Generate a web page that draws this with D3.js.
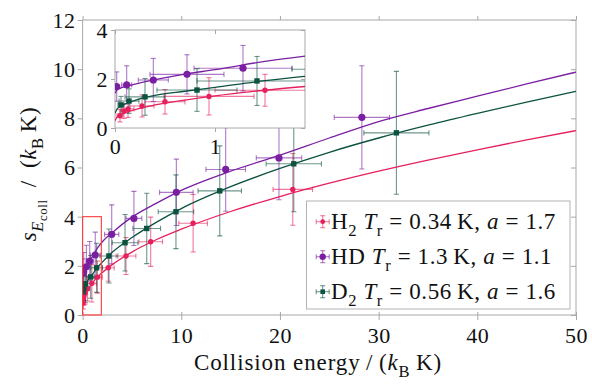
<!DOCTYPE html>
<html><head><meta charset="utf-8">
<script src="https://cdn.jsdelivr.net/npm/d3@7"></script>
<style>
body{margin:0;background:#fff}
svg{display:block}
svg text{fill:#111}
</style>
</head><body>
<svg id="chart" width="592" height="384"></svg>
<script>
// ---- measured data: collision energy (kB K) vs energy spread (kB K) ----
const h2E  = [0.05, 0.09, 0.13, 0.27, 0.5, 0.94, 1.5, 2.6, 4.4, 6.9, 11.2, 21.3];
const h2S  = [0.50, 0.69, 0.78, 0.90, 1.07, 1.29, 1.54, 1.92, 2.40, 2.98, 3.73, 5.11];
const h2dE = [0.03, 0.04, 0.06, 0.12, 0.2, 0.45, 0.5, 0.6, 1.0, 1.2, 1.45, 2.0];
const h2dS = [0.25, 0.30, 0.35, 0.45, 0.5, 0.76, 0.65, 0.55, 0.75, 1.0, 1.17, 1.46];

const hdE  = [0.017, 0.117, 0.383, 0.72, 1.28, 2.95, 5.2, 9.5, 14.5, 19.9, 28.3];
const hdS  = [1.69, 1.76, 1.96, 2.19, 2.44, 3.28, 3.93, 4.99, 5.92, 6.39, 8.04];
const hddE = [0.02, 0.05, 0.15, 0.37, 0.49, 0.72, 0.8, 1.7, 2.0, 2.3, 2.8];
const hddS = [0.6, 0.78, 0.88, 0.8, 0.93, 1.2, 1.1, 1.35, 1.7, 1.7, 2.1];

const d2E  = [0.06, 0.14, 0.30, 0.82, 1.42, 2.67, 4.3, 6.5, 9.46, 13.9, 21.4, 31.8];
const d2S  = [0.94, 1.10, 1.27, 1.55, 1.92, 2.40, 2.94, 3.52, 4.20, 5.05, 6.15, 7.41];
const d2dE = [0.03, 0.1, 0.2, 0.4, 0.6, 0.9, 1.3, 1.4, 1.8, 2.2, 2.8, 3.3];
const d2dS = [0.35, 0.5, 0.75, 0.87, 1.0, 1.1, 1.15, 1.43, 1.5, 1.83, 1.95, 2.5];

// ---- fitted model curves, sampled ----
const fitE   = [0, 0.02, 0.05, 0.1, 0.2, 0.4, 0.7, 1, 1.5, 2, 3, 5, 7.5, 10, 15, 20, 25, 30, 35, 40, 45, 50];
const fitH2  = [0.30, 0.44, 0.53, 0.62, 0.75, 0.94, 1.14, 1.31, 1.54, 1.73, 2.05, 2.56, 3.07, 3.49, 4.21, 4.82, 5.36, 5.85, 6.30, 6.72, 7.12, 7.50];
const fitHD  = [1.42, 1.55, 1.62, 1.69, 1.79, 1.97, 2.20, 2.38, 2.72, 2.98, 3.35, 3.98, 4.55, 5.07, 5.85, 6.50, 7.20, 7.87, 8.40, 8.90, 9.40, 9.88];
const fitD2  = [0.60, 0.77, 0.87, 0.98, 1.13, 1.33, 1.50, 1.66, 1.93, 2.15, 2.55, 3.15, 3.78, 4.33, 5.22, 5.96, 6.62, 7.20, 7.72, 8.20, 8.66, 9.10];

const xTicks = [0, 10, 20, 30, 40, 50];
const yTicks = [0, 2, 4, 6, 8, 10, 12];
const insetXTicks = [0, 1];
const insetYTicks = [0, 2, 4];

const legendRows = [
  {name: "H", sub: "2", tr: "0.34", a: "1.7"},
  {name: "HD", sub: "", tr: "1.3", a: "1.1"},
  {name: "D", sub: "2", tr: "0.56", a: "1.6"}
];

const series = [
  {E: h2E, S: h2S, dE: h2dE, dS: h2dS, fit: fitH2, color: "#e6205c", shape: "dot"},
  {E: hdE, S: hdS, dE: hddE, dS: hddS, fit: fitHD, color: "#7a1fa2", shape: "circle"},
  {E: d2E, S: d2S, dE: d2dE, dS: d2dS, fit: fitD2, color: "#0c5240", shape: "square"}
];

const SERIF = '"Liberation Serif", "Times New Roman", serif';
const svg = d3.select("#chart").attr("font-family", SERIF);
const FS = 22;
const AXIS = "#a8a8a8";

const x = d3.scaleLinear([0, 50], [82.6, 576]);
const y = d3.scaleLinear([0, 12], [315, 20]);
const xi = d3.scaleLinear([0, 1.9], [115, 305]);
const yi = d3.scaleLinear([0, 4], [128, 30]);

// rich text helper: parts with italic flag and subscript level
function rich(sel, parts, size) {
  sel.attr("font-family", SERIF);
  let shift = 0;
  parts.forEach(p => {
    const lvl = p.l || 0;
    const target = lvl === 0 ? 0 : lvl === 1 ? size * 0.3 : size * 0.48;
    const fs = lvl === 0 ? size : lvl === 1 ? size * 0.72 : size * 0.56;
    const ts = sel.append("tspan").text(p.t).attr("font-size", fs);
    if (p.it) ts.attr("font-style", "italic");
    if (target !== shift) { ts.attr("dy", target - shift); shift = target; }
  });
}

function styleTicks(axisSel) {
  axisSel.attr("font-family", SERIF);
  axisSel.selectAll(".tick text").attr("font-size", FS).attr("fill", "#111").attr("font-family", SERIF)
    .attr("letter-spacing", 0.5);
}

function drawData(g, xs, ys) {
  const cap = 2.6;
  series.forEach(s => {
    const eb = g.append("g").attr("stroke", s.color).attr("stroke-opacity", 0.6).attr("stroke-width", 1.1);
    s.E.forEach((e, i) => {
      const px = xs(e), py = ys(s.S[i]);
      const y0 = ys(s.S[i] - s.dS[i]), y1 = ys(s.S[i] + s.dS[i]);
      const x0 = xs(e - s.dE[i]), x1 = xs(e + s.dE[i]);
      eb.append("line").attr("x1", px).attr("x2", px).attr("y1", y0).attr("y2", y1);
      eb.append("line").attr("x1", px - cap).attr("x2", px + cap).attr("y1", y0).attr("y2", y0);
      eb.append("line").attr("x1", px - cap).attr("x2", px + cap).attr("y1", y1).attr("y2", y1);
      eb.append("line").attr("x1", x0).attr("x2", x1).attr("y1", py).attr("y2", py);
      eb.append("line").attr("x1", x0).attr("x2", x0).attr("y1", py - cap).attr("y2", py + cap);
      eb.append("line").attr("x1", x1).attr("x2", x1).attr("y1", py - cap).attr("y2", py + cap);
    });
  });
  series.forEach(s => {
    const line = d3.line().x((d, i) => xs(fitE[i])).y(d => ys(d)).curve(d3.curveMonotoneX);
    g.append("path").attr("d", line(s.fit)).attr("fill", "none")
      .attr("stroke", s.color).attr("stroke-width", 1.3);
  });
  series.forEach(s => {
    s.E.forEach((e, i) => drawMarker(g, s, xs(e), ys(s.S[i])));
  });
}

function drawMarker(g, s, px, py) {
  if (s.shape === "square") {
    g.append("rect").attr("x", px - 2.7).attr("y", py - 2.7).attr("width", 5.4).attr("height", 5.4).attr("fill", s.color);
  } else {
    g.append("circle").attr("cx", px).attr("cy", py).attr("r", s.shape === "circle" ? 3.6 : 2.7).attr("fill", s.color);
  }
}

// ---- clip paths ----
const defs = svg.append("defs");
defs.append("clipPath").attr("id", "mainClip").append("rect")
  .attr("x", x(0)).attr("y", y(12)).attr("width", x(50) - x(0)).attr("height", y(0) - y(12));
defs.append("clipPath").attr("id", "insetClip").append("rect")
  .attr("x", xi(0)).attr("y", yi(4)).attr("width", xi(1.9) - xi(0)).attr("height", yi(0) - yi(4));

// ---- main frame & axes ----
svg.append("rect").attr("x", x(0)).attr("y", y(12)).attr("width", x(50) - x(0)).attr("height", y(0) - y(12))
  .attr("fill", "none").attr("stroke", AXIS).attr("stroke-width", 1);

const xAxis = svg.append("g").attr("transform", `translate(0,${y(0)})`)
  .call(d3.axisBottom(x).tickValues(xTicks).tickSize(5).tickFormat(d3.format("d")));
xAxis.select(".domain").remove();
xAxis.selectAll(".tick line").attr("stroke", AXIS).attr("y1", -3).attr("y2", 5);
styleTicks(xAxis);
xAxis.selectAll(".tick text").attr("y", 28).attr("dy", 0);

const yAxis = svg.append("g").attr("transform", `translate(${x(0)},0)`)
  .call(d3.axisLeft(y).tickValues(yTicks).tickSize(5).tickPadding(2).tickFormat(d3.format("d")));
yAxis.select(".domain").remove();
yAxis.selectAll(".tick line").attr("stroke", AXIS);
styleTicks(yAxis);
yAxis.selectAll(".tick text").attr("dy", "0.34em");

// ticks mirrored on the top and right frame
const topAxis = svg.append("g").attr("transform", `translate(0,${y(12)})`)
  .call(d3.axisTop(x).tickValues(xTicks).tickSize(4).tickFormat(""));
topAxis.select(".domain").remove();
topAxis.selectAll(".tick line").attr("stroke", AXIS);
const rightAxis = svg.append("g").attr("transform", `translate(${x(50)},0)`)
  .call(d3.axisRight(y).tickValues(yTicks).tickSize(-5).tickFormat(""));
rightAxis.select(".domain").remove();
rightAxis.selectAll(".tick line").attr("stroke", AXIS);

// ---- main data ----
const mainG = svg.append("g").attr("clip-path", "url(#mainClip)");
drawData(mainG, x, y);

// zoom region marker
svg.append("rect").attr("x", x(0)).attr("y", y(4)).attr("width", x(1.9) - x(0)).attr("height", y(0) - y(4))
  .attr("fill", "none").attr("stroke", "#ff3b3b").attr("stroke-width", 1.1);

// ---- axis titles ----
const xt = svg.append("text").attr("x", 318).attr("y", 370).attr("text-anchor", "middle").attr("letter-spacing", 0.9);
rich(xt, [{t: "Collision energy\u2009/\u2009("}, {t: "k", it: true}, {t: "B", l: 1}, {t: "\u2009K)"}], 23);

const yt = svg.append("text").attr("transform", "translate(36,174) rotate(-90)").attr("text-anchor", "middle")
  .attr("letter-spacing", 0.6);
rich(yt, [{t: "s", it: true}, {t: "E", it: true, l: 1}, {t: "coll", l: 2}, {t: "\u2002/\u2002("},
  {t: "k", it: true}, {t: "B", l: 1}, {t: "\u2009K)"}], 23);

// ---- legend ----
const lg = svg.append("g");
lg.append("rect").attr("x", 306.5).attr("y", 201).attr("width", 263.5).attr("height", 108)
  .attr("fill", "#fff").attr("stroke", "#b4b4b4").attr("stroke-width", 1);
legendRows.forEach((r, i) => {
  const s = series[i];
  const cy = 221.7 + i * 35, cx = 322.7;
  const m = lg.append("g").attr("stroke", s.color).attr("stroke-opacity", 0.6).attr("stroke-width", 1.1);
  m.append("line").attr("x1", cx - 6.5).attr("x2", cx + 6.5).attr("y1", cy).attr("y2", cy);
  m.append("line").attr("x1", cx - 6.5).attr("x2", cx - 6.5).attr("y1", cy - 2.5).attr("y2", cy + 2.5);
  m.append("line").attr("x1", cx + 6.5).attr("x2", cx + 6.5).attr("y1", cy - 2.5).attr("y2", cy + 2.5);
  m.append("line").attr("x1", cx).attr("x2", cx).attr("y1", cy - 6).attr("y2", cy + 6);
  m.append("line").attr("x1", cx - 2.5).attr("x2", cx + 2.5).attr("y1", cy - 6).attr("y2", cy - 6);
  m.append("line").attr("x1", cx - 2.5).attr("x2", cx + 2.5).attr("y1", cy + 6).attr("y2", cy + 6);
  if (s.shape === "square") {
    lg.append("rect").attr("x", cx - 2.3).attr("y", cy - 2.3).attr("width", 4.6).attr("height", 4.6).attr("fill", s.color);
  } else {
    lg.append("circle").attr("cx", cx).attr("cy", cy).attr("r", s.shape === "circle" ? 3.2 : 2.4).attr("fill", s.color);
  }
  const t = lg.append("text").attr("x", 331).attr("y", cy + 7.5).attr("letter-spacing", 0.6);
  const parts = [{t: r.name}];
  if (r.sub) parts.push({t: r.sub, l: 1});
  parts.push({t: " "}, {t: "T", it: true}, {t: "r", l: 1}, {t: " = " + r.tr + "\u2009K, "}, {t: "a", it: true}, {t: " = " + r.a});
  rich(t, parts, 23);
});

// ---- inset ----
svg.append("rect").attr("x", xi(0)).attr("y", yi(4)).attr("width", xi(1.9) - xi(0)).attr("height", yi(0) - yi(4))
  .attr("fill", "#fff").attr("stroke", AXIS).attr("stroke-width", 1);
const insetG = svg.append("g").attr("clip-path", "url(#insetClip)");
drawData(insetG, xi, yi);

const ixAxis = svg.append("g").attr("transform", `translate(0,${yi(0)})`)
  .call(d3.axisBottom(xi).tickValues(insetXTicks).tickSize(4).tickFormat(d3.format("d")));
ixAxis.select(".domain").remove();
ixAxis.selectAll(".tick line").attr("stroke", AXIS);
styleTicks(ixAxis);
ixAxis.selectAll(".tick text").attr("y", 26).attr("dy", 0);
const iyAxis = svg.append("g").attr("transform", `translate(${xi(0)},0)`)
  .call(d3.axisLeft(yi).tickValues(insetYTicks).tickSize(4).tickPadding(3).tickFormat(d3.format("d")));
iyAxis.select(".domain").remove();
iyAxis.selectAll(".tick line").attr("stroke", AXIS);
styleTicks(iyAxis);
iyAxis.selectAll(".tick text").attr("dy", "0.34em");
const itAxis = svg.append("g").attr("transform", `translate(0,${yi(4)})`)
  .call(d3.axisTop(xi).tickValues(insetXTicks).tickSize(-4).tickFormat(""));
itAxis.select(".domain").remove();
itAxis.selectAll(".tick line").attr("stroke", AXIS);
const irAxis = svg.append("g").attr("transform", `translate(${xi(1.9)},0)`)
  .call(d3.axisRight(yi).tickValues(insetYTicks).tickSize(-4).tickFormat(""));
irAxis.select(".domain").remove();
irAxis.selectAll(".tick line").attr("stroke", AXIS);
</script>
</body></html>
